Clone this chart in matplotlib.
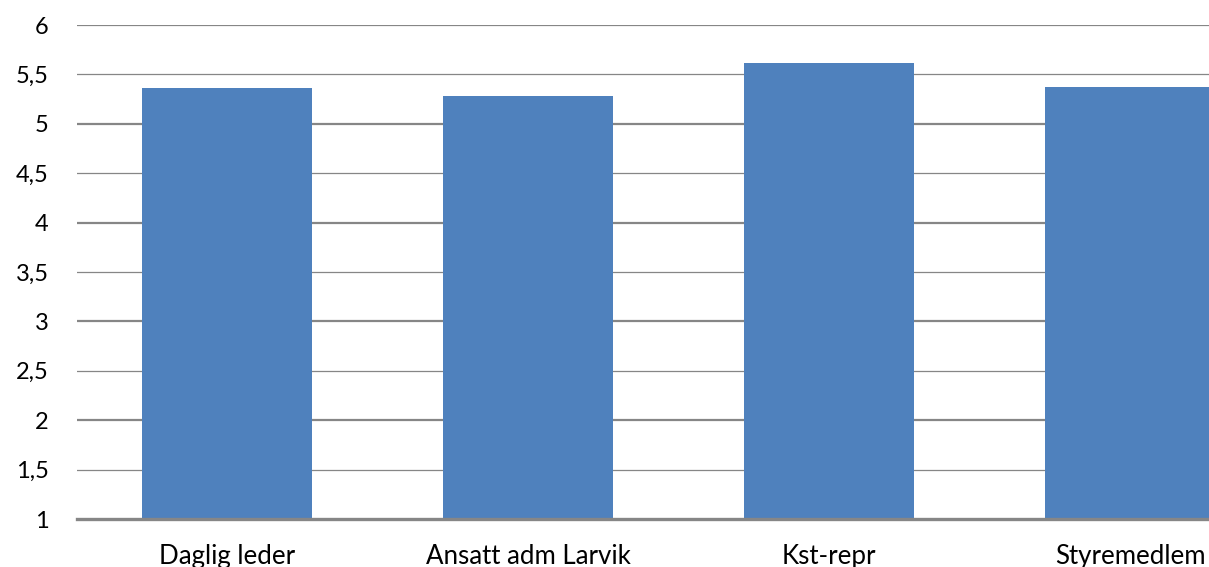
import numpy as np
import matplotlib.pyplot as plt
from matplotlib.ticker import FuncFormatter

plt.rcParams['font.family'] = ['Lato', 'DejaVu Sans']
plt.rcParams['font.size'] = 17

categories = ['Daglig leder', 'Ansatt adm Larvik', 'Kst-repr', 'Styremedlem']
values = [5.36, 5.28, 5.62, 5.37]

fig = plt.figure(figsize=(12.09, 5.67), dpi=100)
# axes run past the right edge, like the cropped original
ax = fig.add_axes([76.5 / 1209, 48 / 567, 1204 / 1209, 494 / 567])

x = np.arange(len(categories))
ax.set_ylim(1, 6)
ax.set_xlim(-0.5, len(categories) - 0.5)

# gridlines: whole numbers a bit heavier than halves
for y in np.arange(1.5, 6.01, 0.5):
    lw = 1.6 if y % 1 == 0 else 0.9
    ax.axhline(y, color='#868686', lw=lw, zorder=1)

ax.bar(x, np.array(values) - 1, bottom=1, width=0.568, color='#4F81BD', zorder=2)

ax.set_yticks(np.arange(1, 6.01, 0.5))
ax.yaxis.set_major_formatter(FuncFormatter(lambda v, p: ('%g' % v).replace('.', ',')))
ax.set_xticks(x)
ax.set_xticklabels(categories, fontsize=18.6)
ax.tick_params(axis='y', length=0, pad=20)
ax.tick_params(axis='x', length=0, pad=18)

for s in ['top', 'right', 'left']:
    ax.spines[s].set_visible(False)
ax.spines['bottom'].set_color('#868686')
ax.spines['bottom'].set_linewidth(2.4)
ax.spines['bottom'].set_zorder(3)

plt.savefig('out.png', dpi=100)
